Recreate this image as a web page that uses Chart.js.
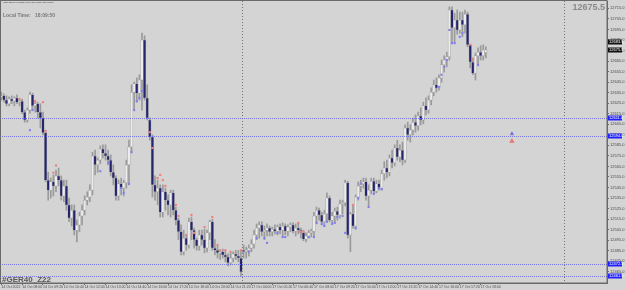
<!DOCTYPE html>
<html>
<head>
<meta charset="utf-8">
<script src="https://cdn.jsdelivr.net/npm/chart.js@4/dist/chart.umd.min.js"></script>
<style>
  html, body { margin: 0; padding: 0; background: #d4d4d4; overflow: hidden; }
</style>
</head>
<body>
<canvas id="chart" width="625" height="290"></canvas>
<script>
// #GER40_Z22, M10 candles (14 Oct 2022 .. 17 Oct 2022), one entry per bar
const opens = [
  12631, 12632, 12628, 12624.5, 12629, 12627, 12630, 12626, 12627, 12616.5,
  12609, 12618.5, 12633, 12622.5, 12624.5, 12616.5, 12611, 12597, 12552, 12542.5,
  12550.5, 12546.5, 12556, 12552, 12537, 12546.5, 12528.5, 12516, 12523.5, 12504.5,
  12509.5, 12518, 12523.5, 12533, 12536, 12542.5, 12575, 12566.5, 12571, 12581.5,
  12577.5, 12575, 12571, 12559.5, 12554, 12537, 12548.5, 12544.5, 12549.5, 12566.5,
  12583.5, 12635.5, 12643.5, 12634.5, 12647, 12685, 12630, 12609, 12593, 12547.5,
  12541, 12544.5, 12521.5, 12541, 12533, 12528.5, 12540, 12523.5, 12514, 12503,
  12484, 12497, 12490.5, 12512.5, 12504.5, 12495.5, 12489.5, 12500, 12495.5, 12487.5,
  12502, 12512.5, 12487.5, 12485.5, 12483, 12484, 12481, 12479, 12473.5, 12478,
  12482, 12480, 12478,
  12485.5, 12484, 12485.5, 12487.5, 12491.5, 12500, 12506.5, 12509.5, 12503, 12504.5,
  12506.5, 12503, 12505.5, 12503.5, 12507.5, 12504.5, 12508.5, 12503.5, 12507.5, 12509.5,
  12503.5, 12506.5, 12504.5, 12502, 12496, 12499, 12502, 12503.5, 12518, 12523.5,
  12519, 12512.5, 12520, 12535, 12514, 12518, 12522.5, 12519, 12529.5, 12530.5,
  12549.5, 12500, 12520, 12508.5, 12536, 12546.5, 12548.5, 12550.5, 12537, 12542.5,
  12551, 12541.5, 12548.5, 12544.5, 12558, 12563.5, 12559.5, 12573, 12568.5, 12582.5,
  12574, 12580.5, 12571, 12601.5, 12595, 12599.5, 12607, 12603.5, 12613, 12609,
  12622.5, 12618.5, 12628, 12635.5, 12642.5, 12639.5, 12649, 12661.5, 12666, 12669,
  12713.5, 12696.5, 12704, 12694.5, 12704, 12699.5, 12709.5, 12680.5, 12664, 12653.5,
  12670, 12673.5, 12670, 12673
];
const highs = [
  12635.5, 12634, 12632, 12631, 12632, 12631, 12633, 12628, 12629, 12618.5,
  12620.5, 12635.5, 12634.5, 12627, 12626, 12624.5, 12616.5, 12599.5, 12559.5, 12554,
  12557, 12561.5, 12563.5, 12556, 12552, 12552, 12535, 12528.5, 12528.5, 12514,
  12521.5, 12528.5, 12537, 12541, 12547.5, 12578.5, 12580.5, 12573, 12584.5, 12585.5,
  12585.5, 12580.5, 12576, 12566.5, 12556, 12552, 12554, 12552, 12571, 12590,
  12642.5, 12645, 12649, 12652, 12691.5, 12689, 12642.5, 12611, 12595, 12556,
  12552, 12547.5, 12547.5, 12544.5, 12538, 12542.5, 12542.5, 12526.5, 12516, 12509.5,
  12504.5, 12500, 12516, 12517, 12506.5, 12497, 12504.5, 12504.5, 12505.5, 12504.5,
  12514, 12515, 12495.5, 12489.5, 12485.5, 12486.5, 12485, 12482, 12483, 12484,
  12485.5, 12485.5, 12485,
  12490.5, 12488.5, 12490.5, 12495.5, 12504.5, 12510.5, 12512.5, 12512.5, 12508.5, 12510.5,
  12508.5, 12507.5, 12509.5, 12509.5, 12510.5, 12511.5, 12510.5, 12509.5, 12511.5, 12511.5,
  12510.5, 12511.5, 12506.5, 12504.5, 12502, 12504.5, 12505.5, 12521.5, 12526.5, 12525.5,
  12521.5, 12523.5, 12540, 12537, 12521.5, 12525.5, 12526.5, 12533, 12533, 12552,
  12551, 12521.5, 12528.5, 12538, 12550.5, 12552, 12554, 12554, 12547.5, 12554,
  12554, 12552, 12552, 12561.5, 12569.5, 12571, 12576, 12580.5, 12585.5, 12590,
  12585.5, 12588, 12604.5, 12607, 12604.5, 12611, 12614, 12616.5, 12620.5, 12626,
  12630, 12632, 12639.5, 12647, 12649, 12652, 12666, 12670, 12673.5, 12716.5,
  12716.5, 12710.5, 12713.5, 12711.5, 12711.5, 12713.5, 12711.5, 12680.5, 12668, 12672.5,
  12677.5, 12679.5, 12680.5, 12678.5
];
const lows = [
  12628, 12626, 12622.5, 12622.5, 12624.5, 12622.5, 12624.5, 12622.5, 12615, 12607,
  12607, 12615.5, 12618.5, 12616.5, 12611, 12601.5, 12595, 12550.5, 12533, 12535,
  12537, 12541, 12546.5, 12533, 12531.5, 12523.5, 12512.5, 12508.5, 12500, 12493.5,
  12503, 12509.5, 12519, 12528.5, 12531.5, 12538, 12557, 12559.5, 12567.5, 12573,
  12571, 12566.5, 12556, 12547.5, 12533, 12533, 12538, 12537, 12544.5, 12547.5,
  12578.5, 12618.5, 12626, 12628, 12618.5, 12628, 12609, 12590, 12536, 12533,
  12528.5, 12517, 12517, 12523.5, 12519, 12517, 12519, 12509.5, 12495.5, 12481,
  12481, 12485.5, 12487.5, 12495.5, 12487.5, 12485.5, 12485.5, 12490.5, 12483, 12484,
  12495.5, 12485.5, 12481, 12478, 12476.5, 12478, 12474.5, 12470.5, 12471.5, 12474.5,
  12476.5, 12474.5, 12461,
  12478, 12478, 12480, 12484, 12487.5, 12495.5, 12497, 12499, 12495.5, 12499,
  12499, 12499, 12501, 12500, 12501, 12498, 12500, 12499, 12503, 12502,
  12499, 12501, 12497, 12494.5, 12493.5, 12497, 12498, 12499, 12510.5, 12514,
  12509.5, 12508.5, 12512.5, 12512.5, 12510.5, 12511.5, 12514, 12516, 12520, 12527.5,
  12497, 12484, 12506.5, 12505.5, 12533, 12541, 12544.5, 12533, 12527.5, 12539,
  12539, 12540, 12542.5, 12542.5, 12552, 12554, 12556, 12563.5, 12565.5, 12571,
  12569.5, 12566.5, 12568.5, 12590, 12588, 12595, 12597.5, 12599.5, 12604.5, 12605.5,
  12614, 12615.5, 12623.5, 12632, 12635.5, 12637.5, 12645, 12654.5, 12659.5, 12666,
  12682, 12682, 12690.5, 12691.5, 12688, 12691.5, 12678.5, 12658.5, 12652, 12647,
  12660.5, 12666, 12666, 12668
];
const closes = [
  12632, 12628, 12624.5, 12629, 12627, 12630, 12626, 12627, 12616.5, 12609,
  12618.5, 12633, 12622.5, 12624.5, 12616.5, 12611, 12597, 12552, 12542.5, 12550.5,
  12546.5, 12556, 12552, 12537, 12546.5, 12528.5, 12516, 12523.5, 12504.5, 12509.5,
  12518, 12523.5, 12533, 12536, 12542.5, 12575, 12566.5, 12571, 12581.5, 12577.5,
  12575, 12571, 12559.5, 12554, 12537, 12548.5, 12544.5, 12549.5, 12566.5, 12583.5,
  12635.5, 12643.5, 12634.5, 12647, 12685, 12630, 12611, 12593, 12547.5, 12541,
  12544.5, 12521.5, 12541, 12533, 12528.5, 12540, 12523.5, 12514, 12503, 12484,
  12497, 12490.5, 12512.5, 12504.5, 12495.5, 12489.5, 12500, 12495.5, 12487.5, 12502,
  12512.5, 12487.5, 12485.5, 12483, 12484, 12481, 12479, 12473.5, 12478, 12482,
  12480, 12478, 12465,
  12484, 12485.5, 12487.5, 12491.5, 12500, 12506.5, 12509.5, 12503, 12504.5, 12506.5,
  12503, 12505.5, 12503.5, 12507.5, 12504.5, 12508.5, 12503.5, 12507.5, 12509.5, 12503.5,
  12506.5, 12504.5, 12502, 12496, 12499, 12502, 12503.5, 12518, 12523.5, 12519,
  12512.5, 12520, 12535, 12514, 12518, 12522.5, 12519, 12529.5, 12530.5, 12549.5,
  12500, 12520, 12508.5, 12536, 12546.5, 12548.5, 12550.5, 12537, 12542.5, 12551,
  12541.5, 12548.5, 12544.5, 12558, 12563.5, 12559.5, 12573, 12568.5, 12582.5, 12574,
  12580.5, 12571, 12601.5, 12595, 12599.5, 12607, 12603.5, 12613, 12609, 12622.5,
  12618.5, 12628, 12635.5, 12642.5, 12639.5, 12649, 12661.5, 12666, 12669, 12713.5,
  12696.5, 12704, 12694.5, 12704, 12699.5, 12709.5, 12680.5, 12664, 12653.5, 12670,
  12673.5, 12670, 12675.5, 12675.5
];

// time labels, one every 8 bars (80 minutes)
const xTickLabels = [
  '14 Oct 2022', '14 Oct 08:00', '14 Oct 09:20', '14 Oct 10:40', '14 Oct 12:00', '14 Oct 13:20',
  '14 Oct 14:40', '14 Oct 16:00', '14 Oct 17:20', '14 Oct 18:40', '14 Oct 20:00', '14 Oct 21:20',
  '17 Oct 04:00', '17 Oct 05:20', '17 Oct 06:40', '17 Oct 08:00', '17 Oct 09:20', '17 Oct 10:40',
  '17 Oct 12:00', '17 Oct 13:20', '17 Oct 14:40', '17 Oct 16:00', '17 Oct 17:20', '17 Oct 18:40'
];
const yTicks = [
  12465, 12475, 12485, 12495, 12505, 12515, 12525, 12535, 12545, 12555, 12565, 12575, 12585,
  12595, 12605, 12615, 12625, 12635, 12645, 12655, 12665, 12675, 12685, 12695, 12705, 12715
];

// indicator arrows: red above bars, blue below bars
const redMarkBars = [7, 13, 16, 17, 20, 21, 57, 58, 60, 61, 62, 63, 67, 68, 71, 73, 74, 78, 81, 83, 84, 86, 88, 92, 114, 115, 116, 135, 180, 181];
const redMarkPrices = [12629, 12627, 12626, 12598.5, 12559, 12566, 12597.5, 12582.5, 12554, 12557, 12552, 12546.5, 12528.5, 12518, 12500, 12519, 12502, 12507.5, 12517, 12490.5, 12485.5, 12485.5, 12484, 12485.5, 12511.5, 12503, 12503, 12528.5, 12680.5, 12667];
const blueMarkBars = [11, 12, 38, 41, 46, 47, 49, 50, 51, 52, 53, 54, 95, 98, 101, 102, 106, 108, 109, 118, 120, 121, 123, 124, 125, 127, 128, 129, 131, 132, 136, 137, 138, 141, 143, 145, 146, 168, 169, 170, 171, 172, 173, 174, 176, 177, 183];
const blueMarkPrices = [12599.5, 12618.5, 12560.5, 12568.5, 12544.5, 12540, 12548.5, 12578.5, 12618.5, 12627, 12630, 12636.5, 12484, 12497, 12497, 12492.5, 12502, 12498, 12498, 12498, 12498, 12511.5, 12510.5, 12508.5, 12512.5, 12510.5, 12511.5, 12517, 12518, 12502, 12506.5, 12535, 12548.5, 12526.5, 12539, 12544.5, 12543.5, 12640.5, 12652, 12659.5, 12666, 12694.5, 12682, 12682, 12688, 12691.5, 12661.5];

// objects in the chart-shift area
const objectBar = 196;
const objectBluePrices = [12613, 12596];
const objectRedPrices = [12589];

// horizontal level lines, price labels, day separators
const levelLines = [12611, 12594, 12472.5, 12461.5];
const priceLabels = [12683.5, 12675.5];
const separatorSlots = [92.5, 216];
const lastBid = '12675.5';
const titleText = '#GER40_Z22, M10:  Dec 2022 DAX Future  12664.0 12677.0 12664.0 12675.5';

const SLOTS = 233;

const slotLabels = [];
for (let i = 0; i < SLOTS; i++) {
    slotLabels.push(i % 8 === 0 && xTickLabels[i / 8] ? xTickLabels[i / 8] : '');
}

function padded(arr) {
    const out = arr.slice();
    while (out.length < SLOTS) out.push(null);
    return out;
}

function marks(bars, prices) {
    const out = new Array(SLOTS).fill(null);
    bars.forEach((b, i) => { out[b] = prices[i]; });
    return out;
}

const wickData = padded(lows.map((l, i) => [l, highs[i]]));
const bodyData = padded(opens.map((o, i) => [o, closes[i]]));
const bodyColors = opens.map((o, i) => closes[i] >= o ? '#ececec' : '#25256f');

const mtOverlay = {
    id: 'mtOverlay',
    beforeDraw(chart) {
        const c = chart.ctx;
        c.save();
        c.fillStyle = '#d4d4d4';
        c.fillRect(0, 0, chart.width, chart.height);
        c.restore();
    },
    beforeDatasetsDraw(chart) {
        const { ctx: c, chartArea: a, scales: { x } } = chart;
        c.save();
        c.strokeStyle = '#707070';
        c.lineWidth = 1;
        c.setLineDash([1, 2]);
        separatorSlots.forEach(s => {
            const px = Math.round(x.getPixelForValue(s)) + 0.5;
            c.beginPath();
            c.moveTo(px, a.top);
            c.lineTo(px, a.bottom);
            c.stroke();
        });
        c.restore();
    },
    afterDatasetsDraw(chart) {
        const { ctx: c, chartArea: a, scales: { y } } = chart;
        c.save();
        c.strokeStyle = 'rgba(96, 96, 240, 0.8)';
        c.lineWidth = 1;
        c.setLineDash([1, 1]);
        levelLines.forEach(p => {
            const py = Math.round(y.getPixelForValue(p)) + 0.5;
            c.beginPath();
            c.moveTo(a.left, py);
            c.lineTo(a.right, py);
            c.stroke();
        });
        c.restore();
    },
    afterDraw(chart) {
        const { ctx: c, chartArea: a, scales: { y } } = chart;
        c.save();
        // frame
        c.strokeStyle = '#6a6a6a';
        c.lineWidth = 1;
        c.strokeRect(0.5, 0.5, a.right - 0.5, a.bottom - 0.5);

        // price tags on the right axis
        c.font = '4px "Liberation Sans"';
        c.textBaseline = 'middle';
        c.textAlign = 'left';
        levelLines.forEach(p => {
            const py = Math.round(y.getPixelForValue(p));
            c.fillStyle = '#2020ff';
            c.fillRect(a.right + 1, py - 2.5, 14, 5);
            c.fillStyle = '#ffffff';
            c.fillText(p.toFixed(1), a.right + 2, py);
        });
        priceLabels.forEach(p => {
            const py = Math.round(y.getPixelForValue(p));
            c.fillStyle = '#101010';
            c.fillRect(a.right + 1, py - 2.5, 14, 5);
            c.fillStyle = '#ffffff';
            c.fillText(p.toFixed(1), a.right + 2, py);
        });

        // texts
        c.textBaseline = 'top';
        c.fillStyle = '#303030';
        c.font = '2px "Liberation Sans"';
        const tw = c.measureText(titleText).width;
        const fs = 2 * 51 / tw;
        c.font = fs.toFixed(2) + 'px "Liberation Sans"';
        c.fillText(titleText, 3, 2);

        c.fillStyle = '#7a7a7a';
        c.font = 'bold 5px "Liberation Sans"';
        c.fillText('Local Time:', 3, 13);
        c.fillText('18:09:50', 35, 13);

        c.textAlign = 'right';
        c.fillStyle = '#8a8a8a';
        c.font = 'bold 9px "Liberation Sans"';
        c.fillText(lastBid, a.right - 2, 3);

        c.textAlign = 'left';
        c.textBaseline = 'alphabetic';
        c.fillStyle = '#5a5a5a';
        c.font = 'bold 8px "Liberation Sans"';
        c.fillText('#GER40_Z22', 2, a.bottom - 1);
        c.restore();
    }
};

const ctx = document.getElementById('chart').getContext('2d');
new Chart(ctx, {
    type: 'bar',
    data: {
        labels: slotLabels,
        datasets: [
            {
                label: 'wick',
                data: wickData,
                backgroundColor: '#9a9a9a',
                barThickness: 1,
                grouped: false,
                order: 3
            },
            {
                label: 'body',
                data: bodyData,
                backgroundColor: bodyColors,
                borderColor: '#a4a4a4',
                borderWidth: 0.6,
                borderSkipped: false,
                barThickness: 2.6,
                grouped: false,
                order: 2
            },
            {
                type: 'line',
                label: 'up',
                data: marks(redMarkBars, redMarkPrices),
                showLine: false,
                pointStyle: 'rect',
                pointRadius: 1.5,
                pointBackgroundColor: '#f08080',
                pointBorderWidth: 0,
                order: 1
            },
            {
                type: 'line',
                label: 'down',
                data: marks(blueMarkBars, blueMarkPrices),
                showLine: false,
                pointStyle: 'rect',
                pointRadius: 1.5,
                pointBackgroundColor: '#8080f4',
                pointBorderWidth: 0,
                order: 1
            },
            {
                type: 'line',
                label: 'objBlue',
                data: marks(objectBluePrices.map(() => objectBar), objectBluePrices),
                showLine: false,
                pointStyle: 'triangle',
                pointRadius: 2,
                pointBackgroundColor: '#8080f0',
                pointBorderColor: '#5050e0',
                pointBorderWidth: 0.5,
                order: 1
            },
            {
                type: 'line',
                label: 'objRed',
                data: marks(objectRedPrices.map(() => objectBar), objectRedPrices),
                showLine: false,
                pointStyle: 'triangle',
                pointRadius: 2.5,
                pointBackgroundColor: '#f08080',
                pointBorderColor: '#e05050',
                pointBorderWidth: 0.5,
                order: 1
            }
        ]
    },
    options: {
        responsive: false,
        animation: false,
        devicePixelRatio: 1,
        layout: { autoPadding: false, padding: { top: 1, left: 0, right: 0, bottom: 0 } },
        plugins: {
            legend: { display: false },
            tooltip: { enabled: false }
        },
        scales: {
            x: {
                type: 'category',
                offset: true,
                grid: { display: true, drawOnChartArea: false, drawTicks: true, tickLength: 2, color: '#6a6a6a', offset: false },
                border: { display: true, color: '#6a6a6a' },
                ticks: {
                    autoSkip: false, maxRotation: 0, minRotation: 0, align: 'start', padding: 0,
                    color: '#4a4a4a', font: { size: 3.5, family: 'Liberation Sans' }
                },
                afterBuildTicks: s => { s.ticks = s.ticks.filter(t => slotLabels[t.value] !== ''); },
                afterFit: s => { s.height = 7; s.paddingLeft = 0; s.paddingRight = 0; }
            },
            y: {
                position: 'right',
                min: 12454.4,
                max: 12722,
                grid: { drawOnChartArea: false, drawTicks: true, tickLength: 2, color: '#6a6a6a' },
                border: { display: true, color: '#6a6a6a' },
                ticks: {
                    padding: 1, color: '#4a4a4a', font: { size: 4, family: 'Liberation Sans' },
                    callback: v => Number(v).toFixed(1)
                },
                afterBuildTicks: s => { s.ticks = yTicks.map(v => ({ value: v })); },
                afterFit: s => { s.width = 18; s.paddingTop = 0; s.paddingBottom = 0; }
            }
        }
    },
    plugins: [mtOverlay]
});
</script>
</body>
</html>
